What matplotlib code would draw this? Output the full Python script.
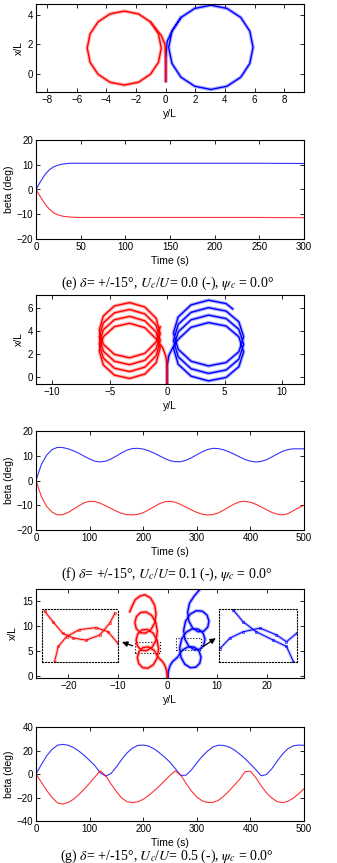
import matplotlib
matplotlib.use("Agg")
import matplotlib.pyplot as plt
from matplotlib.patches import Rectangle

plt.rcParams["font.family"] = ["Liberation Sans", "DejaVu Sans"]
plt.rcParams["mathtext.fontset"] = "stix"

W, H = 337, 863

# ---- (e) Uc/U = 0.0 : trajectories (y/L, x/L) ----
E_RED_Y = [0, 0, -0.05, -0.3, -1.03, -1.84, -2.80, -3.76, -4.57, -5.11, -5.30, -5.11, -4.57,
           -3.76, -2.80, -1.84, -1.03, -0.49, -0.30, -0.49, -1.03]
E_RED_X = [-0.5, 1.0, 2.0, 2.6, 3.52, 4.06, 4.25, 4.06, 3.52, 2.71, 1.75, 0.79, -0.02,
           -0.56, -0.75, -0.56, -0.02, 0.79, 1.75, 2.71, 3.52]
E_BLUE_Y = [0, 0, 0.1, 0.42, 1.03, 1.96, 3.05, 4.14, 5.07, 5.68, 5.90, 5.68, 5.07,
            4.14, 3.05, 1.96, 1.03, 0.42, 0.20, 0.42, 1.03]
E_BLUE_X = [-0.5, 1.0, 2.2, 2.89, 3.82, 4.43, 4.65, 4.43, 3.82, 2.89, 1.80, 0.71, -0.22,
            -0.83, -1.05, -0.83, -0.22, 0.71, 1.80, 2.89, 3.82]

# ---- (e) drift angle ----
E_T = [0, 5, 10, 15, 20, 25, 30, 35, 40, 50, 100, 150, 200, 250, 300]
E_BETA_BLUE = [0, 3.2, 6.0, 8.0, 9.2, 9.9, 10.3, 10.5, 10.6, 10.6, 10.6, 10.6, 10.6, 10.6, 10.5]
E_BETA_RED = [0, -3.0, -5.8, -8.0, -9.5, -10.3, -10.8, -11.0, -11.2, -11.3, -11.3, -11.3,
              -11.3, -11.3, -11.4]

# ---- (f) Uc/U = 0.1 : trajectories ----
F_RED_Y = [0, 0, -0.1, -0.4,
           -0.95, -1.93, -3.25, -4.58, -5.55, -5.90, -5.55, -4.58, -3.25, -1.93, -0.95, -0.60,
           -0.95, -1.93, -3.25, -4.58, -5.55, -5.90, -5.55, -4.58, -3.25, -1.93, -0.95, -0.60,
           -0.95, -1.93, -3.25, -4.58, -5.55, -5.90, -5.55, -4.58, -3.25, -1.93, -0.95, -0.60,
           -0.95, -1.93, -3.25, -4.58, -5.55, -5.90, -5.55, -4.58, -3.25, -1.93, -0.95, -0.60]
F_RED_X = [-0.6, 0.8, 1.8, 2.6,
           3.33, 4.31, 4.70, 4.41, 3.53, 2.30, 1.08, 0.19, -0.10, 0.29, 1.28, 2.60,
           3.93, 4.91, 5.30, 5.01, 4.13, 2.90, 1.68, 0.79, 0.50, 0.89, 1.88, 3.20,
           4.53, 5.51, 5.90, 5.61, 4.73, 3.50, 2.28, 1.39, 1.10, 1.49, 2.48, 3.80,
           5.13, 6.11, 6.50, 6.21, 5.33, 4.10, 2.88, 1.99, 1.70, 2.09, 3.08, 4.40]
F_BLUE_Y = [0, 0, 0.15, 0.5,
            0.96, 2.08, 3.60, 5.13, 6.24, 6.65, 6.24, 5.13, 3.60, 2.08, 0.96, 0.55,
            0.96, 2.08, 3.60, 5.13, 6.24, 6.65, 6.24, 5.13, 3.60, 2.08, 0.96, 0.55,
            0.96, 2.08, 3.60, 5.13, 6.24, 6.65, 6.24, 5.13, 3.60, 2.08, 0.96, 0.55,
            0.96, 2.08, 3.60, 5.13, 5.70]
F_BLUE_X = [-0.6, 1.0, 1.9, 2.6,
            3.30, 4.35, 4.76, 4.46, 3.52, 2.22, 0.93, -0.01, -0.31, 0.10, 1.14, 2.55,
            3.95, 5.00, 5.41, 5.11, 4.17, 2.87, 1.58, 0.64, 0.34, 0.75, 1.79, 3.20,
            4.60, 5.65, 6.06, 5.76, 4.82, 3.52, 2.23, 1.29, 0.99, 1.40, 2.44, 3.85,
            5.25, 6.30, 6.71, 6.41, 5.95]

# ---- (f) drift angle ----
FG_T = list(range(0, 501, 10))
F_BETA_BLUE = [0, 6.5, 10.3, 12.5, 13.4, 13.3, 12.8, 12.0, 11.0, 9.8, 8.7, 7.8, 7.5, 7.8, 8.7,
               9.9, 11.2, 12.3, 12.9, 13.0, 12.7, 12.0, 11.1, 10.0, 8.9, 8.0, 7.6, 7.6, 8.2,
               9.2, 10.4, 11.6, 12.5, 13.0, 12.9, 12.4, 11.6, 10.6, 9.5, 8.5, 7.8, 7.5, 7.7,
               8.4, 9.5, 10.7, 11.8, 12.5, 12.8, 12.8, 12.8]
F_BETA_RED = [0, -6.5, -10.5, -12.8, -13.9, -13.8, -12.9, -11.6, -10.2, -9.0, -8.4, -8.5,
              -9.2, -10.2, -11.3, -12.4, -13.3, -13.8, -13.9, -13.7, -13.0, -11.9, -10.6,
              -9.4, -8.6, -8.4, -8.8, -9.7, -10.8, -11.9, -12.9, -13.6, -13.9, -13.8, -13.1,
              -12.0, -10.7, -9.5, -8.6, -8.4, -8.8, -9.6, -10.7, -11.8, -12.9, -13.6, -13.9,
              -13.4, -12.2, -11.0, -10.0]

# ---- (g) Uc/U = 0.5 : trajectories ----
G_RED_Y = [0, -0.2, -0.5, -1.0,
           -1.87, -2.69, -3.81, -4.93, -5.76, -6.08, -5.80, -5.02, -3.94, -2.86, -2.07, -1.80,
           -2.12, -2.94, -4.06, -5.18, -6.01, -6.33, -6.05, -5.27, -4.19, -3.11, -2.32, -2.05,
           -2.37, -3.19, -4.31, -5.43, -6.26, -6.58, -6.30, -5.52, -4.44, -3.36, -2.57, -2.30,
           -2.62, -3.44, -4.56, -5.60, -6.50, -7.10, -7.60]
G_RED_X = [-0.4, 1.0, 2.0, 2.8,
           3.67, 5.06, 5.75, 5.64, 4.83, 3.63, 2.42, 1.61, 1.50, 2.19, 3.58, 5.38,
           7.17, 8.56, 9.25, 9.14, 8.33, 7.13, 5.92, 5.11, 5.00, 5.69, 7.08, 8.88,
           10.67, 12.06, 12.75, 12.64, 11.83, 10.63, 9.42, 8.61, 8.50, 9.19, 10.58, 12.38,
           14.17, 15.56, 16.20, 15.90, 15.20, 14.00, 12.80]
G_BLUE_Y = [0, 0.2, 0.5, 1.0,
            2.03, 2.96, 4.20, 5.44, 6.37, 6.75, 6.50, 5.71, 4.60, 3.49, 2.70, 2.45,
            2.83, 3.76, 5.00, 6.24, 7.17, 7.55, 7.30, 6.51, 5.40, 4.29, 3.50, 3.25,
            3.63, 4.56, 5.80, 7.04, 7.97, 8.35, 8.10, 7.31, 6.20, 5.09, 4.30, 4.05,
            4.43, 5.36, 6.80]
G_BLUE_X = [-0.4, 1.0, 2.0, 2.8,
            3.70, 5.10, 5.80, 5.70, 4.90, 3.70, 2.50, 1.70, 1.60, 2.30, 3.70, 5.50,
            7.30, 8.70, 9.40, 9.30, 8.50, 7.30, 6.10, 5.30, 5.20, 5.90, 7.30, 9.10,
            10.90, 12.30, 13.00, 12.90, 12.10, 10.90, 9.70, 8.90, 8.80, 9.50, 10.90, 12.70,
            14.50, 15.90, 17.60]

# zoomed crossing views (normalised inset coordinates)
RED_ZOOM_A_U = [0.03, 0.14, 0.27, 0.41, 0.58, 0.76, 0.89, 0.96]
RED_ZOOM_A_V = [0.96, 0.76, 0.54, 0.45, 0.41, 0.51, 0.73, 0.92]
RED_ZOOM_B_U = [0.16, 0.21, 0.32, 0.49, 0.71, 0.87, 1.0]
RED_ZOOM_B_V = [0.0, 0.29, 0.48, 0.61, 0.65, 0.57, 0.35]
BLUE_ZOOM_A_U = [0.18, 0.31, 0.48, 0.70, 0.87, 0.96]
BLUE_ZOOM_A_V = [0.99, 0.76, 0.57, 0.41, 0.29, 0.0]
BLUE_ZOOM_B_U = [0.01, 0.14, 0.31, 0.53, 0.74, 0.87, 1.0]
BLUE_ZOOM_B_V = [0.25, 0.45, 0.57, 0.64, 0.51, 0.38, 0.54]

# ---- (g) drift angle ----
G_BETA_BLUE = [0, 8, 15.5, 21, 24.5, 25.2, 24.5, 22.5, 19.5, 15.8, 11.5, 7, 1.0, -1.8, 0.5,
               6, 12.5, 18, 22, 24.3, 24.6, 23.8, 21.5, 18.2, 14.3, 10, 4.5, -1.2, -1.0, 3.5,
               9.5, 15, 19.5, 23, 24.5, 24.3, 23, 20.5, 17, 13, 8.5, 3.8, -1.5, -0.5, 4.5,
               11, 17, 21.5, 24, 24.6, 24.4]
G_BETA_RED = [0, -7, -14, -20, -24.5, -25.6, -24.2, -21.5, -17.5, -12.8, -7.8, -2.5, 2.7,
              -1.5, -8.5, -15, -20.5, -23.6, -24.4, -23.6, -21.5, -18.3, -14.5, -10.3, -5.8,
              -1.2, 2.6, -1.0, -8.0, -14.5, -19.5, -22.8, -24.2, -24.2, -22.5, -19, -14.5,
              -9.5, -4.5, 2.0, 2.4, -3.0, -10, -16, -20.5, -23.5, -24.4, -23.2, -20.5,
              -16.8, -12.6]

CAPTIONS = [
    r"(e) $\delta$= +/-15°, $U_c$/$U$= 0.0 (-), $\psi_c$ = 0.0°",
    r"(f) $\delta$= +/-15°, $U_c$/$U$= 0.1 (-), $\psi_c$ = 0.0°",
    r"(g) $\delta$= +/-15°, $U_c$/$U$= 0.5 (-), $\psi_c$ = 0.0°",
]


def add_axes_px(fig, left, top, right, bottom):
    return fig.add_axes([left / W, 1 - bottom / H, (right - left) / W, (bottom - top) / H])


def style(ax):
    ax.tick_params(direction="in", length=3, width=0.6, top=True, right=True,
                   labelsize=7, pad=2)
    for sp in ax.spines.values():
        sp.set_linewidth(0.8)


def traj(ax, y, x, color):
    # fuzzy band imitating the ship outlines, then the track itself
    ax.plot(y, x, color=color, lw=2.6, alpha=0.3, solid_joinstyle="round",
            solid_capstyle="round")
    ax.plot(y, x, color=color, lw=1.0, solid_joinstyle="round")


fig = plt.figure(figsize=(W / 100, H / 100), dpi=100)

# (e) trajectory
ax1 = add_axes_px(fig, 36, 4, 304, 92)
traj(ax1, E_BLUE_Y, E_BLUE_X, "blue")
traj(ax1, E_RED_Y, E_RED_X, "red")
ax1.set_xlim(-8.76, 9.34)
ax1.set_ylim(-1.22, 4.73)
ax1.set_xticks(range(-8, 9, 2))
ax1.set_yticks([0, 2, 4])
ax1.set_xlabel("y/L", fontsize=7.5, labelpad=3)
ax1.set_ylabel("x/L", fontsize=7.5, labelpad=3)
style(ax1)

# (e) beta
ax2 = add_axes_px(fig, 36, 140, 304, 239)
ax2.plot(E_T, E_BETA_BLUE, color="blue", lw=0.8, alpha=0.8)
ax2.plot(E_T, E_BETA_RED, color="red", lw=0.8, alpha=0.8)
ax2.set_xlim(0, 300)
ax2.set_ylim(-20, 20)
ax2.set_xticks(range(0, 301, 50))
ax2.set_yticks(range(-20, 21, 10))
ax2.set_xlabel("Time (s)", fontsize=7.5, labelpad=3)
ax2.set_ylabel("beta (deg)", fontsize=7.5, labelpad=2)
style(ax2)

# (f) trajectory
ax3 = add_axes_px(fig, 36, 295, 304, 384)
traj(ax3, F_BLUE_Y, F_BLUE_X, "blue")
traj(ax3, F_RED_Y, F_RED_X, "red")
ax3.set_xlim(-11.4, 11.9)
ax3.set_ylim(-0.58, 7.16)
ax3.set_xticks([-10, -5, 0, 5, 10])
ax3.set_yticks([0, 2, 4, 6])
ax3.set_xlabel("y/L", fontsize=7.5, labelpad=3)
ax3.set_ylabel("x/L", fontsize=7.5, labelpad=3)
style(ax3)

# (f) beta
ax4 = add_axes_px(fig, 36, 431, 304, 530)
ax4.plot(FG_T, F_BETA_BLUE, color="blue", lw=0.8, alpha=0.8)
ax4.plot(FG_T, F_BETA_RED, color="red", lw=0.8, alpha=0.8)
ax4.set_xlim(0, 500)
ax4.set_ylim(-20, 20)
ax4.set_xticks(range(0, 501, 100))
ax4.set_yticks(range(-20, 21, 10))
ax4.set_xlabel("Time (s)", fontsize=7.5, labelpad=3)
ax4.set_ylabel("beta (deg)", fontsize=7.5, labelpad=2)
style(ax4)

# (g) trajectory
ax5 = add_axes_px(fig, 36, 589, 304, 678)
traj(ax5, G_BLUE_Y, G_BLUE_X, "blue")
traj(ax5, G_RED_Y, G_RED_X, "red")
ax5.set_xlim(-26.5, 27.5)
ax5.set_ylim(-0.46, 17.34)
ax5.set_xticks([-20, -10, 0, 10, 20])
ax5.set_yticks([0, 5, 10, 15])
ax5.set_xlabel("y/L", fontsize=7.5, labelpad=3)
ax5.set_ylabel("x/L", fontsize=7.5, labelpad=3)
style(ax5)

# source boxes and zoomed views
ax5.add_patch(Rectangle((-6.6, 4.5), 5.05, 2.3, fill=False, ls=":", lw=0.8, color="k"))
ax5.add_patch(Rectangle((1.8, 5.1), 4.85, 2.4, fill=False, ls=":", lw=0.8, color="k"))
ax5.annotate("", xy=(-9.7, 6.9), xytext=(-6.5, 5.8),
             arrowprops=dict(arrowstyle="-|>", color="k", lw=0.9, mutation_scale=8))
ax5.annotate("", xy=(10.2, 7.8), xytext=(6.65, 5.5),
             arrowprops=dict(arrowstyle="-|>", color="k", lw=0.9, mutation_scale=8))

for bounds, (au, av, bu, bv), col in [
    ((-25.2, 2.8, 15.2, 10.5), (RED_ZOOM_A_U, RED_ZOOM_A_V, RED_ZOOM_B_U, RED_ZOOM_B_V), "red"),
    ((10.4, 2.8, 15.6, 10.5), (BLUE_ZOOM_A_U, BLUE_ZOOM_A_V, BLUE_ZOOM_B_U, BLUE_ZOOM_B_V), "blue"),
]:
    ins = ax5.inset_axes(bounds, transform=ax5.transData)
    for u, v in [(au, av), (bu, bv)]:
        ins.plot(u, v, color=col, lw=2.2, alpha=0.25, solid_joinstyle="round")
        ins.plot(u, v, color=col, lw=0.7, marker="s", ms=1.8, mfc="none", mew=0.4)
    ins.set_xlim(0, 1)
    ins.set_ylim(0, 1)
    ins.set_xticks([])
    ins.set_yticks([])
    ins.patch.set_alpha(0)
    for sp in ins.spines.values():
        sp.set_linestyle(":")
        sp.set_linewidth(0.8)

# (g) beta
ax6 = add_axes_px(fig, 36, 727, 304, 821)
ax6.plot(FG_T, G_BETA_BLUE, color="blue", lw=0.8, alpha=0.8)
ax6.plot(FG_T, G_BETA_RED, color="red", lw=0.8, alpha=0.8)
ax6.set_xlim(0, 500)
ax6.set_ylim(-40, 40)
ax6.set_xticks(range(0, 501, 100))
ax6.set_yticks(range(-40, 41, 20))
ax6.set_xlabel("Time (s)", fontsize=7.5, labelpad=3)
ax6.set_ylabel("beta (deg)", fontsize=7.5, labelpad=2)
style(ax6)

for cap, ypx in zip(CAPTIONS, [283, 574, 856]):
    fig.text(167 / W, 1 - ypx / H, cap, ha="center", va="center", fontsize=10,
             family=["Liberation Serif", "DejaVu Serif"])

fig.savefig("out.png", dpi=100)
